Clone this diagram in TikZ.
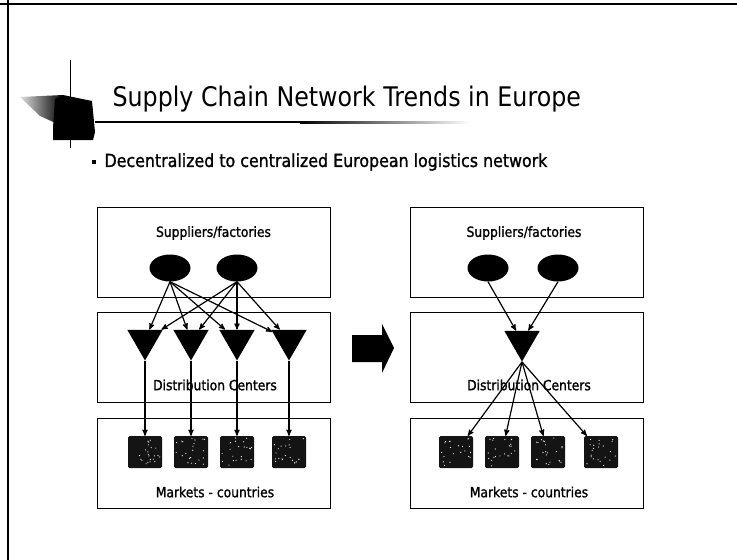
\documentclass[tikz,border=0pt]{standalone}
\usepackage{fontspec}
\setmainfont{DejaVu Sans}[FakeStretch=0.88]
\newfontfamily\heavyfont{DejaVu Sans}[FakeStretch=0.88,FakeBold=1.2]
\usetikzlibrary{arrows,shapes.geometric}

\begin{document}
\begin{tikzpicture}[x=1pt,y=-1pt,>=stealth',node distance=46pt,
layer box/.style={draw,line width=1pt,minimum width=233pt,minimum height=90pt,inner sep=0pt},
source node/.style={ellipse,fill=black,minimum width=41pt,minimum height=27pt,inner sep=0pt},
hub node/.style={regular polygon,regular polygon sides=3,shape border rotate=180,fill=black,minimum size=41pt,inner sep=0pt},
market node/.style={fill=black!92,rounded corners=1.5pt,minimum width=34pt,minimum height=32pt,inner sep=0pt},
layer label/.style={font=\heavyfont\fontsize{14}{16}\selectfont},
flow/.style={->,line width=1.2pt}]

\useasboundingbox (0,0) rectangle (737,560);

% slide frame
\draw[line width=2pt] (0,4) -- (737,4);
\draw[line width=2pt] (8,0) -- (8,560);

% title decoration
\draw[line width=1pt] (70,60) -- (70,148);
\shade[left color=gray!25,right color=black] (20,97) -- (63,95) -- (60,125) -- (40,116) -- cycle;
\fill (55,99) -- (63,95) -- (92,101) -- (95,132) -- (93,140) -- (53,140) -- (53,128) -- cycle;
\draw[line width=2pt] (95,122) -- (300,122);
\shade[left color=black,right color=white] (300,121) rectangle (470,123);

\node[anchor=base west,font=\fontsize{27}{30}\selectfont] (title) at (109,106) {Supply Chain Network Trends in Europe};
\fill (92,160) rectangle (96,164);
\node[anchor=west,font=\heavyfont\fontsize{18}{20}\selectfont] (point) at (101,162) {Decentralized to centralized European logistics network};

% decentralized network
\node[layer box] (sup1) at (213.5,252) {};
\node[layer box] (dc1) at (213.5,357.5) {};
\node[layer box] (mkt1) at (213.5,463.5) {};
\node[layer label] at (213.5,233) {Suppliers/factories};
\node[layer label] at (215,385) {Distribution Centers};
\node[layer label] at (215,492) {Markets - countries};

\node[source node] (e1) at (170,268) {};
\node[source node] (e2) [right of=e1,node distance=67pt] {};
\node[hub node] (t1) at (145,340) {};
\node[hub node] (t2) [right of=t1] {};
\node[hub node] (t3) [right of=t2] {};
\node[hub node] (t4) [right of=t3,xshift=6pt] {};
\node[market node] (m1) at (145,452) {};
\node[market node] (m2) [right of=m1] {};
\node[market node] (m3) [right of=m2] {};
\node[market node] (m4) [right of=m3,xshift=6pt] {};

\foreach \s in {e1,e2}
  \foreach \t in {t1,t2,t3,t4}
    \draw[flow] (\s.south) -- (\t);
\foreach \i in {1,...,4}
  \draw[flow] (t\i.south) -- (m\i.north);

% move to a single hub
\fill (352,335) -- (382,335) -- (382,324) -- (394,348) -- (382,373) -- (382,362) -- (352,362) -- cycle;

% centralized network
\node[layer box] (sup2) at (527,252) {};
\node[layer box] (dc2) at (527,357.5) {};
\node[layer box] (mkt2) at (527,463.5) {};
\node[layer label] at (524,233) {Suppliers/factories};
\node[layer label] at (529,385) {Distribution Centers};
\node[layer label] at (529,492) {Markets - countries};

\node[source node] (e3) at (488,268) {};
\node[source node] (e4) [right of=e3,node distance=70pt] {};
\node[hub node] (t5) at (522,341) {};
\node[market node] (m5) at (456,452) {};
\node[market node] (m6) [right of=m5] {};
\node[market node] (m7) [right of=m6] {};
\node[market node] (m8) [right of=m7,xshift=7pt] {};

\draw[flow] (e3.south) -- (t5);
\draw[flow] (e4.south) -- (t5);
\foreach \i in {5,...,8}
  \draw[flow] (t5.south) -- (m\i);

% speckles on the country maps
\pgfmathsetseed{11}
\foreach \i in {1,...,8}
  \foreach \k in {1,...,22}
    \fill[white,shift={(m\i.center)}] (rand*15,rand*14) circle (0.6);

\end{tikzpicture}
\end{document}
